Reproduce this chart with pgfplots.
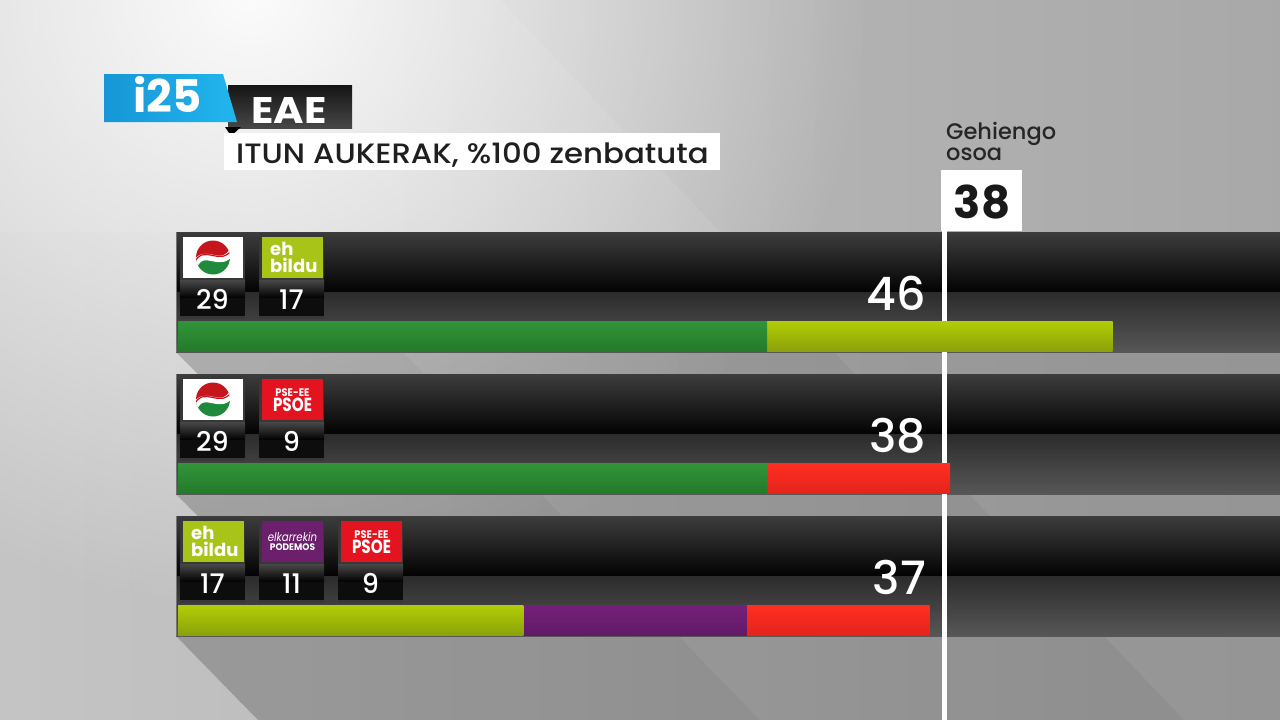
\documentclass[border=0pt]{standalone}
\usepackage{pgfplots}
\pgfplotsset{compat=1.18}
\usepackage{fontspec}
\setmainfont{Poppins}
\newfontfamily\pmed{Poppins}[UprightFont=* Medium, BoldFont=* SemiBold]
\usetikzlibrary{fadings}
\tikzfading[name=glow, inner color=transparent!0, outer color=transparent!100]

\definecolor{barGreenT}{HTML}{309538}
\definecolor{barGreenB}{HTML}{247A2B}
\definecolor{barLimeT}{HTML}{B2CD06}
\definecolor{barLimeB}{HTML}{8BA20A}
\definecolor{barRedT}{HTML}{FF2E22}
\definecolor{barRedB}{HTML}{E4241B}
\definecolor{barPurT}{HTML}{75207A}
\definecolor{barPurB}{HTML}{621A66}
\definecolor{logoBildu}{HTML}{A8C418}
\definecolor{logoPsoe}{HTML}{E3141F}
\definecolor{logoPod}{HTML}{6B1F6C}
\definecolor{pnvRed}{HTML}{C4161C}
\definecolor{pnvGreen}{HTML}{1F8A3B}
\definecolor{blueA}{HTML}{1696D6}
\definecolor{blueB}{HTML}{22B6EE}

\newcommand{\fs}[1]{\fontsize{#1}{#1}\selectfont}

% party slot: frame + number box  (#1 = x0, #2 = row top, #3 = seats)
\newcommand{\slot}[3]{%
  \fill[black!78] (#1,#2+2) rectangle ++(65,85);
  \shade[top color=black!72, bottom color=black] (#1,#2+48) rectangle ++(65,18);
  \fill[black!95] (#1,#2+66) rectangle ++(65,18);
  \node[white, anchor=base, inner sep=0, font=\pmed\fs{27}] at (#1+32.5,#2+77) {#3};
}
\newcommand{\pnvlogo}[2]{%
  \fill[white] (#1+3,#2+5) rectangle ++(60,41);
  \begin{scope}
    \clip (#1+33,#2+25.5) circle (17);
    \fill[pnvRed] (#1+14,#2+6) rectangle ++(40,19.5);
    \fill[pnvGreen] (#1+14,#2+25.5) rectangle ++(40,19.5);
    \draw[white, line width=6.5pt] (#1+14,#2+34) .. controls (#1+25,#2+12) and (#1+40,#2+40) .. (#1+53,#2+18);
    \draw[pnvRed, line width=1.2pt] (#1+14,#2+31) .. controls (#1+25,#2+10) and (#1+40,#2+37) .. (#1+53,#2+16);
  \end{scope}
}
\newcommand{\bildulogo}[2]{%
  \fill[logoBildu] (#1+3,#2+5) rectangle ++(61,41);
  \node[white, anchor=base west, inner sep=0, font=\bfseries\fs{18}] at (#1+11,#2+23) {eh};
  \node[white, anchor=base west, inner sep=0, font=\bfseries\fs{18}] at (#1+11,#2+40) {bildu};
}
\newcommand{\psoelogo}[2]{%
  \fill[logoPsoe] (#1+3,#2+5) rectangle ++(61,41);
  \node[white, anchor=base, inner sep=0, font=\bfseries\fs{11}] at (#1+33.5,#2+22) {\scalebox{0.9}[1]{PSE-EE}};
  \node[white, anchor=base, inner sep=0, font=\bfseries\fs{19}] at (#1+33.5,#2+37) {\scalebox{0.8}[1]{PSOE}};
}
\newcommand{\podlogo}[2]{%
  \fill[logoPod] (#1+3,#2+5) rectangle ++(61,41);
  \node[white, anchor=base, inner sep=0, font=\itshape\fs{12}] at (#1+33.5,#2+25) {\scalebox{0.85}[1]{elkarrekin}};
  \node[white, anchor=base, inner sep=0, font=\bfseries\fs{9.5}] at (#1+33.5,#2+34) {\scalebox{0.95}[1]{PODEMOS}};
}

\begin{document}
\begin{tikzpicture}[x=1pt,y=-1pt]
\clip (0,0) rectangle (1280,720);
% ---------- background ----------
\shade[left color=black!23, right color=black!34] (0,0) rectangle (1280,720);
\fill[white, opacity=0.08] (0,0) -- (500,0) -- (720,232) -- (0,232) -- cycle;
\fill[white, path fading=glow, opacity=0.95] (250,-10) circle (620);
% shadows of the rows
\foreach \B in {352,494} {
  \fill[black, opacity=0.2] (176,\B) -- (1280,\B) -- (1280,\B+22) -- (198,\B+22) -- cycle;
}
\fill[black, opacity=0.2] (176,636) -- (1280,636) -- (1280,720) -- (258,720) -- cycle;
\fill[white, opacity=0.06] (403,352) -- (1280,352) -- (1280,720) -- (760,720) -- cycle;
\fill[white, opacity=0.07] (834,352) -- (1280,352) -- (1280,720) -- (1184,720) -- cycle;
% ---------- tracks ----------
\foreach \T in {232,374,516} {
  \shade[top color=black!76, bottom color=black!99] (176,\T) rectangle (1280,\T+60);
  \shade[top color=black!83, bottom color=black!66] (176,\T+60) rectangle (1280,\T+120);
  \draw[black!55, line width=1pt] (176.5,\T) -- (176.5,\T+120);
}
% ---------- header ----------
\shade[top color=black!92, bottom color=black!72] (228,85) rectangle (352,128);
\fill[black] (225,127) -- (241,127) -- (231,136) -- cycle;
\shade[left color=blueA, right color=blueB] (104,74) -- (223,74) -- (237,122) -- (104,122) -- cycle;
\node[white, anchor=base west, inner sep=0, font=\bfseries\fs{45}] at (133,112) {i25};
\node[white, anchor=base west, inner sep=0, font=\bfseries\fs{37}] at (251,123) {\scalebox{1.12}[1]{EAE}};
\fill[white] (224,133) rectangle (720,170);
\node[black!88, anchor=base west, inner sep=0, font=\pmed\fs{28}] at (236,163) {\scalebox{1.1}[1]{ITUN AUKERAK, \%100 zenbatuta}};
% ---------- party slots ----------
\slot{180}{232}{29}\pnvlogo{180}{232}
\slot{259}{232}{17}\bildulogo{259}{232}
\slot{180}{374}{29}\pnvlogo{180}{374}
\slot{259}{374}{9}\psoelogo{259}{374}
\slot{180}{516}{17}\bildulogo{180}{516}
\slot{259}{516}{11}\podlogo{259}{516}
\slot{338}{516}{9}\psoelogo{338}{516}
% ---------- bars ----------
\begin{axis}[at={(0,0)}, anchor=north west, scale only axis,
  width=1280pt, height=720pt,
  xmin=-8.7616, xmax=54.243, ymin=0, ymax=720, y dir=reverse,
  hide axis, clip=false]
% majority line (38 seats)
\draw[white, line width=5pt] ([xshift=-5.5pt]axis cs:38,230) -- ([xshift=-5.5pt]axis cs:38,720);
% row 1: PNV 29 + EH Bildu 17 = 46 (cumulative ends)
\addplot[xbar, bar shift=0pt, bar width=30pt, draw=none, top color=barLimeT, bottom color=barLimeB] coordinates {(46,336)};
\addplot[xbar, bar shift=0pt, bar width=30pt, draw=none, top color=barGreenT, bottom color=barGreenB] coordinates {(29,336)};
% row 2: PNV 29 + PSE-EE 9 = 38
\addplot[xbar, bar shift=0pt, bar width=30pt, draw=none, top color=barRedT, bottom color=barRedB] coordinates {(38,478)};
\addplot[xbar, bar shift=0pt, bar width=30pt, draw=none, top color=barGreenT, bottom color=barGreenB] coordinates {(29,478)};
% row 3: EH Bildu 17 + Podemos 11 + PSE-EE 9 = 37
\addplot[xbar, bar shift=0pt, bar width=30pt, draw=none, top color=barRedT, bottom color=barRedB] coordinates {(37,620)};
\addplot[xbar, bar shift=0pt, bar width=30pt, draw=none, top color=barPurT, bottom color=barPurB] coordinates {(28,620)};
\addplot[xbar, bar shift=0pt, bar width=30pt, draw=none, top color=barLimeT, bottom color=barLimeB] coordinates {(17,620)};
\end{axis}
% ---------- totals ----------
\node[white, anchor=base east, inner sep=0, font=\pmed\fs{46}] at (926,310) {46};
\node[white, anchor=base east, inner sep=0, font=\pmed\fs{46}] at (926,452) {38};
\node[white, anchor=base east, inner sep=0, font=\pmed\fs{46}] at (926,594) {37};
% ---------- majority ----------
\node[black!85, anchor=base west, inner sep=0, font=\pmed\fs{22.5}] at (946,139) {Gehiengo};
\node[black!85, anchor=base west, inner sep=0, font=\pmed\fs{22.5}] at (946,160) {osoa};
\fill[white] (941,170) rectangle (1022,231);
\node[black!90, anchor=base, inner sep=0, font=\bfseries\fs{45}] at (982,218) {38};
\end{tikzpicture}
\end{document}
